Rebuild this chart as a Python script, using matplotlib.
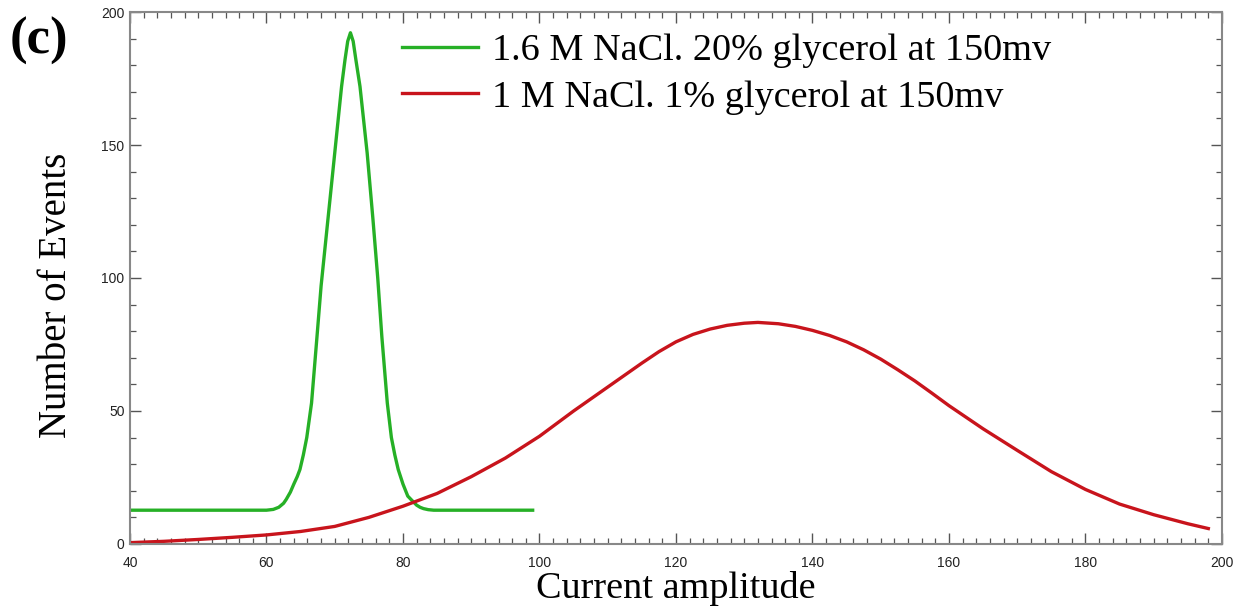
import numpy as np
import matplotlib
matplotlib.use("Agg")
import matplotlib.pyplot as plt
from matplotlib.ticker import MultipleLocator

# green: 1.6 M NaCl, 20% glycerol
green_x = [40, 50, 60, 61, 61.8, 62.5, 62.9, 63.5, 64, 64.5, 64.9, 65.4, 65.9, 66.6,
           67.4, 68.0, 69.0, 70.0, 71.0, 71.5, 71.9, 72.3, 72.7, 73.1, 73.7, 74.75,
           75.6, 76.3, 76.9, 77.7, 78.3, 78.8, 79.3, 80.0, 80.7, 81.3, 82, 82.5, 83,
           83.7, 84.5, 90, 99]
green_y = [12.7, 12.7, 12.7, 13.0, 13.8, 15.3, 16.8, 19.5, 22.5, 25.3, 28, 33.5, 40, 53,
           78, 97, 122, 147, 172, 182, 189, 192.2, 189, 182, 172, 147,
           122, 100, 78, 53, 40, 33.5, 28, 22.5, 18, 16.4, 14.6, 13.8, 13.3,
           12.9, 12.7, 12.7, 12.7]

# red: 1 M NaCl, 1% glycerol
red_x = [40, 45, 50, 55, 60, 65, 70, 75, 80, 85, 90, 95, 100, 105, 110, 115, 117.5,
         120, 122.5, 125, 127.5, 130, 132, 135, 137.5, 140, 142.5, 145, 147.5, 150,
         152.5, 155, 157.5, 160, 165, 170, 175, 180, 185, 190, 195, 198]
red_y = [0.5, 1.0, 1.7, 2.5, 3.4, 4.7, 6.6, 10.0, 14.2, 19.0, 25.3, 32.3, 40.5,
         50.0, 59.0, 68.0, 72.3, 76.0, 78.8, 80.8, 82.2, 83.0, 83.3, 82.8, 81.8,
         80.3, 78.4, 76.0, 73.0, 69.5, 65.5, 61.3, 56.7, 52.0, 43.3, 35.2, 27.2,
         20.5, 15.0, 11.0, 7.6, 5.8]

labels = ["1.6 M NaCl. 20% glycerol at 150mv", "1 M NaCl. 1% glycerol at 150mv"]

fig = plt.figure(figsize=(12.44, 6.13), dpi=100, facecolor='w')
ax = fig.add_axes([0.1045, 0.1126, 0.8778, 0.8678])

ax.plot(green_x, green_y, color='#26b026', lw=2.4, label=labels[0])
ax.plot(red_x, red_y, color='#c8141c', lw=2.4, label=labels[1])

ax.set_xlim(40, 200)
ax.set_ylim(0, 200)
ax.xaxis.set_major_locator(MultipleLocator(20))
ax.xaxis.set_minor_locator(MultipleLocator(2))
ax.yaxis.set_major_locator(MultipleLocator(50))
ax.yaxis.set_minor_locator(MultipleLocator(10))

ax.tick_params(which='both', direction='in', top=True, right=True, color='#555555')
ax.tick_params(which='major', length=8, width=1, labelsize=10, labelcolor='#222222')
ax.tick_params(axis='x', which='major', pad=8.5)
ax.tick_params(axis='y', which='major', pad=4)
ax.tick_params(which='minor', length=4.5, width=0.9)
for lab in ax.get_xticklabels() + ax.get_yticklabels():
    lab.set_family('Liberation Sans')

for spine in ax.spines.values():
    spine.set_color('#888888')
    spine.set_linewidth(1.5)

ax.set_xlabel('Current amplitude', family='Liberation Serif', fontsize=27.5, labelpad=1)
ax.set_ylabel('Number of Events', family='Liberation Serif', fontsize=28)
ax.yaxis.set_label_coords(-0.050, 0.468)

leg = ax.legend(loc='upper left', bbox_to_anchor=(0.249, 0.960), frameon=False,
                borderpad=0, borderaxespad=0,
                prop={'family': 'Liberation Serif', 'size': 27.5},
                handlelength=2.0, handletextpad=0.37, labelspacing=0.31)

fig.text(0.008, 0.933, '(c)', family='Liberation Serif', fontweight='bold',
         fontsize=38, va='center', ha='left')

fig.savefig('out.png', dpi=100)
